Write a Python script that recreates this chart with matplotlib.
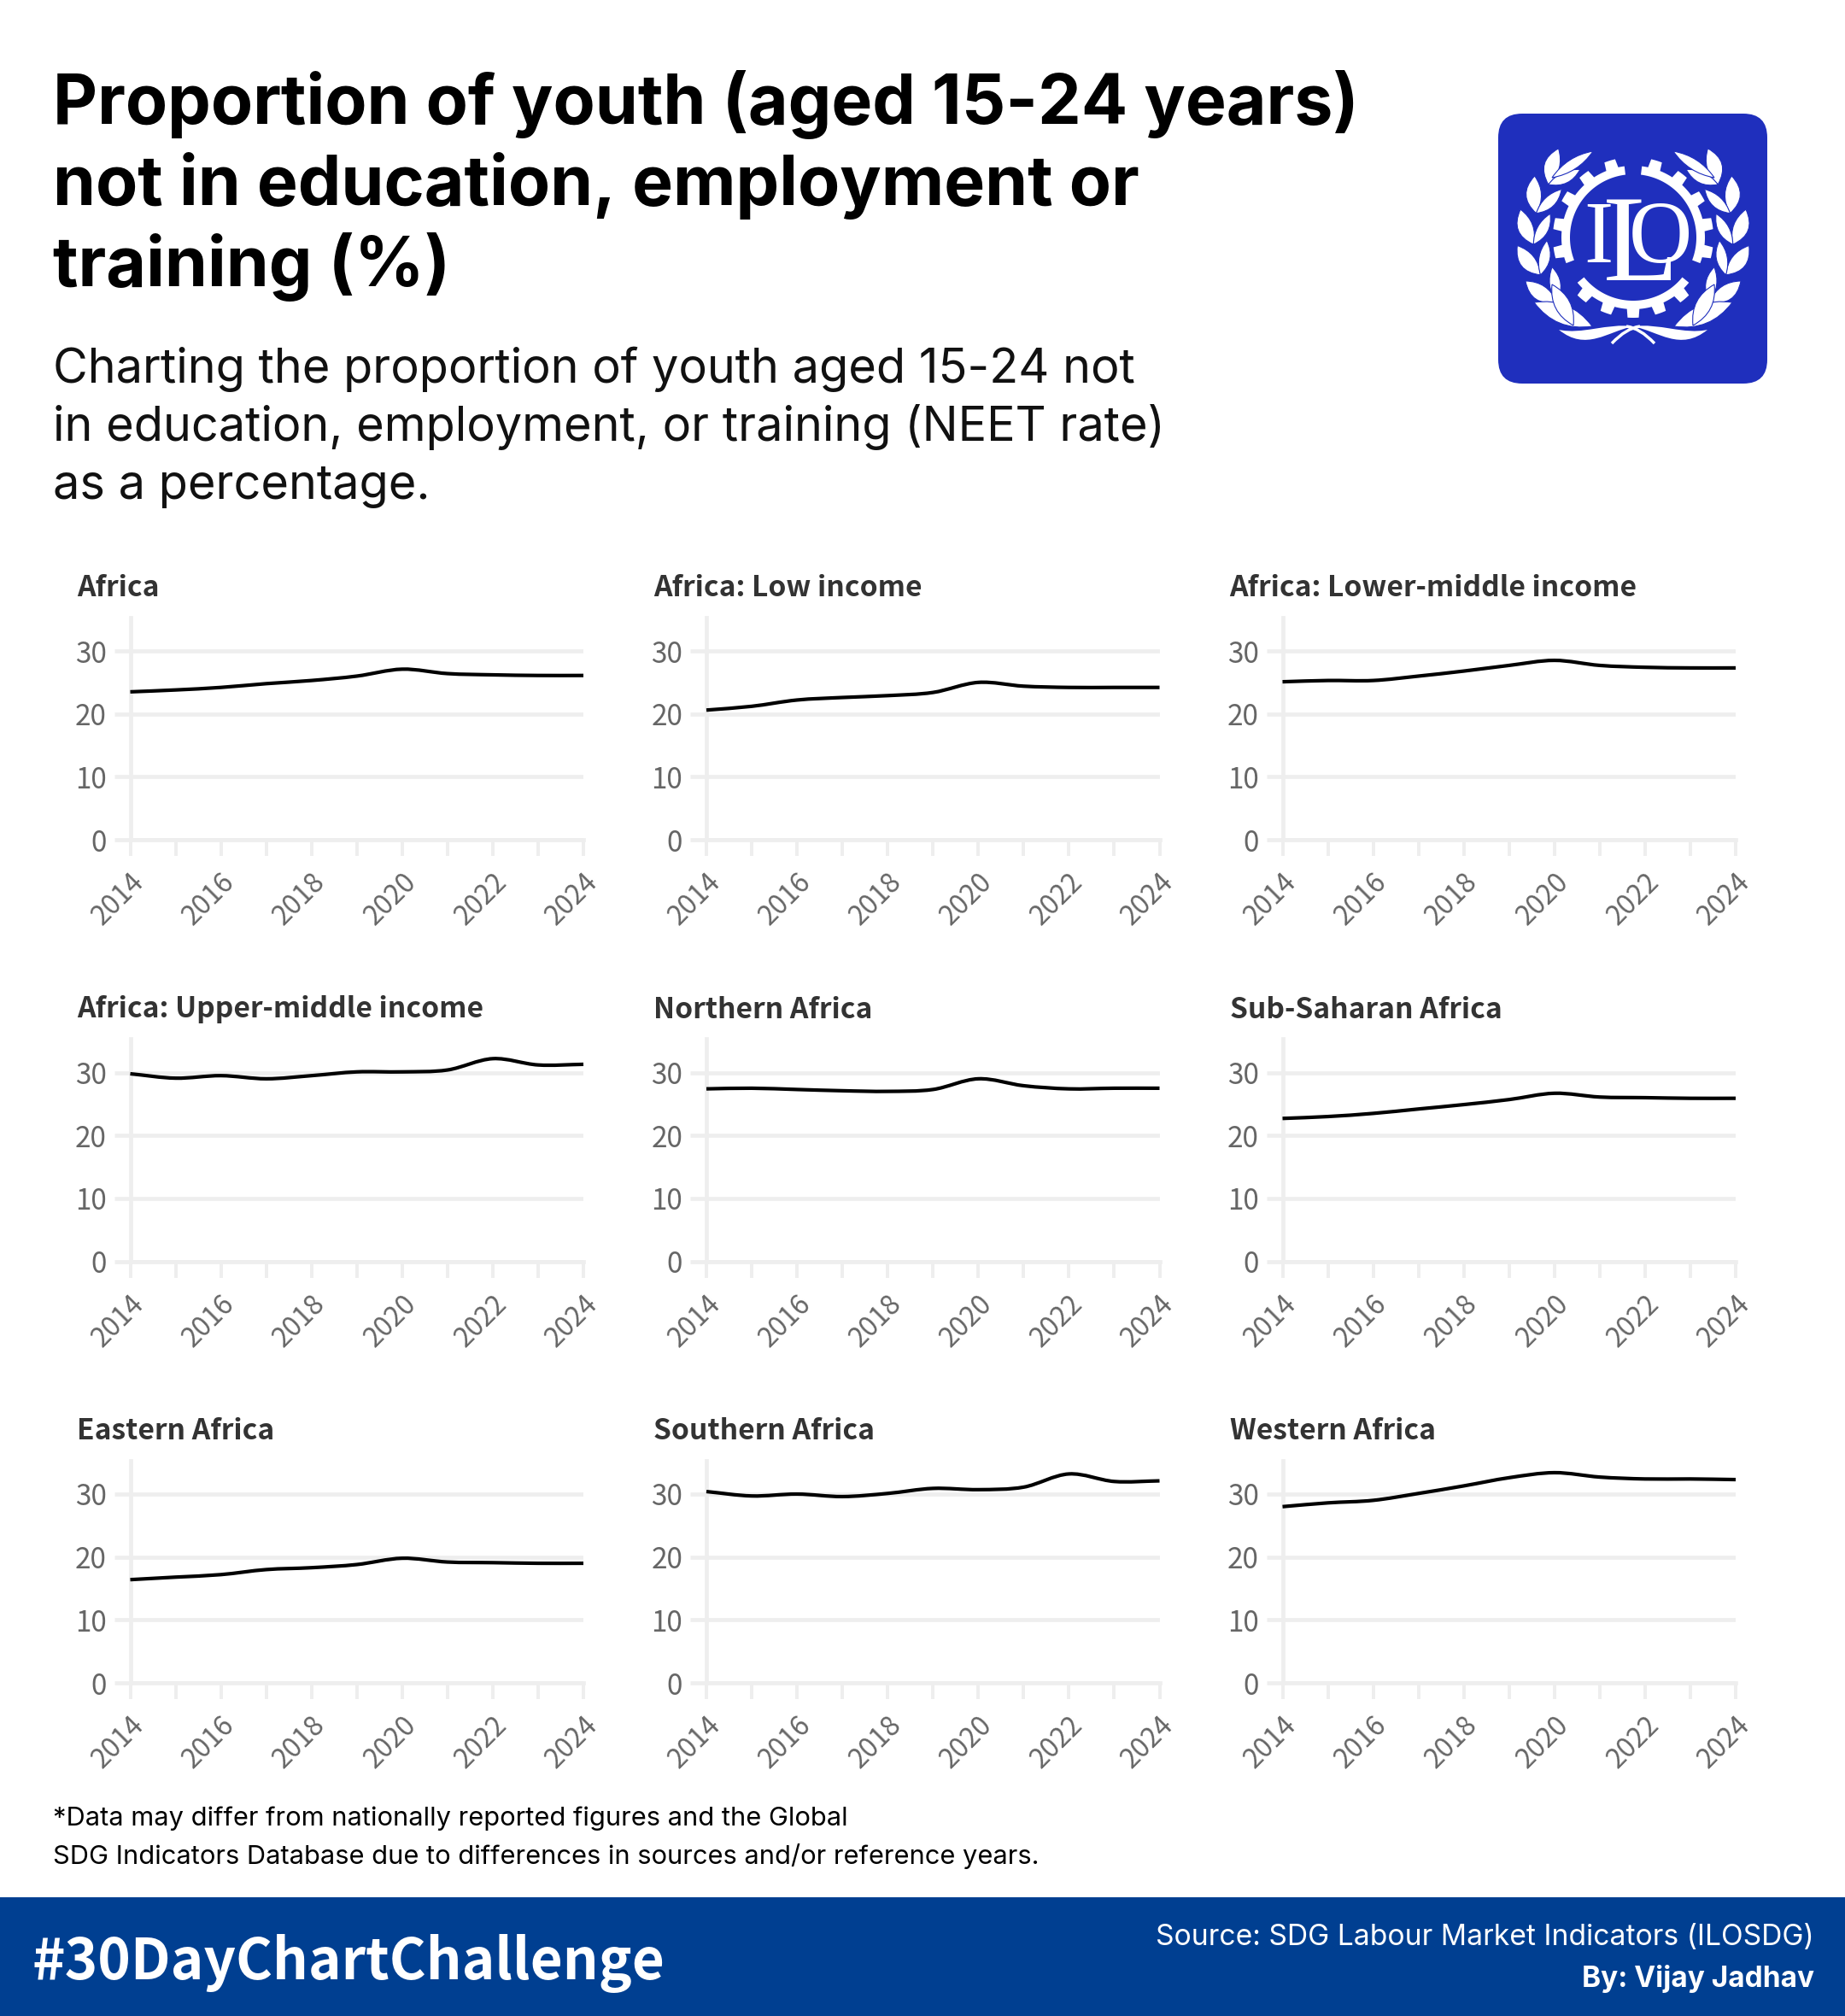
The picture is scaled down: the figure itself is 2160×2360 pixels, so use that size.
import numpy as np
import matplotlib
matplotlib.use("Agg")
import matplotlib.pyplot as plt
from matplotlib.path import Path
from matplotlib.patches import PathPatch, FancyBboxPatch, Rectangle, Polygon

years = np.arange(2014, 2025)
tick_labels = ["2014", "", "2016", "", "2018", "", "2020", "", "2022", "", "2024"]
y_ticks = [0, 10, 20, 30]

panel_names = ["Africa", "Africa: Low income", "Africa: Lower-middle income",
               "Africa: Upper-middle income", "Northern Africa", "Sub-Saharan Africa",
               "Eastern Africa", "Southern Africa", "Western Africa"]

africa = [23.5, 23.8, 24.2, 24.8, 25.3, 26.0, 27.1, 26.4, 26.2, 26.1, 26.1]
low_income = [20.6, 21.2, 22.2, 22.6, 22.9, 23.4, 25.0, 24.4, 24.2, 24.2, 24.2]
lower_middle = [25.1, 25.3, 25.3, 26.0, 26.8, 27.7, 28.5, 27.7, 27.4, 27.3, 27.3]
upper_middle = [29.8, 29.1, 29.5, 29.0, 29.5, 30.1, 30.1, 30.4, 32.2, 31.2, 31.3]
northern = [27.4, 27.5, 27.3, 27.1, 27.0, 27.3, 29.0, 27.9, 27.4, 27.5, 27.5]
sub_saharan = [22.7, 23.0, 23.5, 24.2, 24.9, 25.7, 26.7, 26.1, 26.0, 25.9, 25.9]
eastern = [16.4, 16.8, 17.2, 18.0, 18.3, 18.8, 19.8, 19.2, 19.1, 19.0, 19.0]
southern = [30.4, 29.7, 30.0, 29.6, 30.1, 30.9, 30.7, 31.1, 33.2, 32.0, 32.1]
western = [28.0, 28.6, 29.0, 30.1, 31.3, 32.6, 33.4, 32.7, 32.4, 32.4, 32.3]

panel_values = [africa, low_income, lower_middle, upper_middle, northern,
                sub_saharan, eastern, southern, western]

W, H = 2160, 2360
GRID = "#eeeeee"
CHART_FONT = ["Noto Sans CJK SC", "DejaVu Sans"]
HEAD_FONT = ["Inter", "DejaVu Sans"]

fig = plt.figure(figsize=(W / 100, H / 100), dpi=100, facecolor="white")

# full page overlay, works in reference pixels
bg = fig.add_axes([0, 0, 1, 1])
bg.set_xlim(0, W)
bg.set_ylim(H, 0)
bg.axis("off")

title_lines = ["Proportion of youth (aged 15-24 years)", "not in education, employment or", "training (%)"]
for line, yy in zip(title_lines, [145, 240, 335]):
    bg.text(62, yy, line, family=HEAD_FONT, weight="bold", fontsize=58, color="black", va="baseline")

sub_lines = ["Charting the proportion of youth aged 15-24 not",
             "in education, employment, or training (NEET rate)",
             "as a percentage."]
for line, yy in zip(sub_lines, [448, 516, 584]):
    bg.text(62, yy, line, family=HEAD_FONT, weight="normal", fontsize=40.2, color="#111111", va="baseline")

foot_lines = ["*Data may differ from nationally reported figures and the Global",
              "SDG Indicators Database due to differences in sources and/or reference years."]
for line, yy in zip(foot_lines, [2137, 2182]):
    bg.text(62, yy, line, family=HEAD_FONT, fontsize=22.2, color="black", va="baseline")

# banner
bg.add_patch(Rectangle((0, 2221), W, H - 2221, color="#003f91", lw=0))
bg.text(38, 2317, "#30DayChartChallenge", family=CHART_FONT, weight="bold", fontsize=47.2,
        color="white", va="baseline")
bg.text(2124, 2277, "Source: SDG Labour Market Indicators (ILOSDG)", family=HEAD_FONT, fontsize=24.2,
        color="white", ha="right", va="baseline")
bg.text(2124, 2326, "By: Vijay Jadhav", family=HEAD_FONT, weight="bold", fontsize=24,
        color="white", ha="right", va="baseline")


# ILO logo
LOGO = "#1f2fbd"
cx, cy = 1912, 278
bg.add_patch(FancyBboxPatch((1754 + 28, 133 + 28), 315 - 56, 316 - 56,
                            boxstyle="round,pad=28,rounding_size=28", fc=LOGO, ec="none"))


def gear_arc(a0, a1, teeth):
    # ring segment with teeth, angles in degrees (math sense, y up)
    r_in, r_out, r_tooth = 74, 84, 94
    outer = []
    angs = np.arange(a0, a1 + 0.5, 1.0)
    for a in angs:
        r = r_out
        for t in teeth:
            if abs(a - t) <= 4.5:
                r = r_tooth
        outer.append((cx + r * np.cos(np.radians(a)), cy - r * np.sin(np.radians(a))))
    inner = [(cx + r_in * np.cos(np.radians(a)), cy - r_in * np.sin(np.radians(a))) for a in angs[::-1]]
    bg.add_patch(Polygon(outer + inner, closed=True, fc="white", ec="none"))


gear_arc(97, 201, [107, 128, 149, 170, 191])
gear_arc(-21, 83, [-11, 10, 31, 52, 73])
gear_arc(219, 321, [230, 250, 270, 290, 310])


def leaf(x0, y0, x1, y1, w, bend=0.0):
    # lens shape between base and tip
    dx, dy = x1 - x0, y1 - y0
    nx, ny = -dy, dx
    n = np.hypot(nx, ny)
    nx, ny = nx / n, ny / n
    mx, my = (x0 + x1) / 2, (y0 + y1) / 2
    verts = [(x0, y0), (mx + nx * (w + bend), my + ny * (w + bend)), (x1, y1),
             (mx - nx * (w - bend), my - ny * (w - bend)), (x0, y0)]
    codes = [Path.MOVETO, Path.CURVE3, Path.CURVE3, Path.CURVE3, Path.CURVE3]
    bg.add_patch(PathPatch(Path(verts, codes), fc="white", ec=LOGO, lw=0.8))


for side in [-1, 1]:
    for th in [122, 104, 86, 68, 50]:
        # th counted from straight down, going up the wreath
        bx = cx + side * 117 * np.sin(np.radians(th))
        by = cy + 117 * np.cos(np.radians(th))
        ox = cx + side * 136 * np.sin(np.radians(th + 18))
        oy = cy + 136 * np.cos(np.radians(th + 18))
        ix = cx + side * 101 * np.sin(np.radians(th + 20))
        iy = cy + 101 * np.cos(np.radians(th + 20))
        leaf(bx, by, ox, oy, 18, bend=side * 4)
        leaf(bx, by, ix, iy, 13, bend=side * -2)
    # top leaf and long bottom leaves
    leaf(cx + side * 95, cy - 70, cx + side * 47, cy - 101, 12)
    leaf(cx + side * 48, cy + 104, cx + side * 116, cy + 76, 22)
    leaf(cx + side * 70, cy + 103, cx + side * 95, cy + 55, 18)
    # ribbon
    verts = [(cx + side * 87, cy + 108), (cx + side * 55, cy + 134), (cx + side * 30, cy + 110),
             (cx + side * 0, cy + 104), (cx + side * 30, cy + 100), (cx + side * 60, cy + 114),
             (cx + side * 87, cy + 108)]
    codes = [Path.MOVETO, Path.CURVE4, Path.CURVE4, Path.CURVE4, Path.CURVE4, Path.CURVE4, Path.CURVE4]
    bg.add_patch(PathPatch(Path(verts, codes), fc="white", ec="none"))
    bg.add_patch(PathPatch(Path([(cx + side * 25, cy + 124), (cx + side * 8, cy + 106), (cx - side * 8, cy + 104)],
                                [Path.MOVETO, Path.CURVE3, Path.CURVE3]), fc="none", ec="white", lw=2.5))

serif = "Liberation Serif"
bg.text(1871, 307, "I", family=serif, fontsize=74, color="white", ha="center", va="baseline")
bg.text(1944, 307, "O", family=serif, fontsize=74, color="white", ha="center", va="baseline")
bg.text(1921, 328, "L", family=serif, fontsize=104, color="white", ha="center", va="baseline")


def smooth_path(x, y):
    # cubic segments through the values, tangents from neighbouring points
    y = np.asarray(y, dtype=float)
    x = np.asarray(x, dtype=float)
    slope = np.gradient(y, x)
    verts = [(x[0], y[0])]
    codes = [Path.MOVETO]
    for i in range(len(x) - 1):
        h = (x[i + 1] - x[i]) / 3
        verts += [(x[i] + h, y[i] + slope[i] * h), (x[i + 1] - h, y[i + 1] - slope[i + 1] * h), (x[i + 1], y[i + 1])]
        codes += [Path.CURVE4] * 3
    return Path(verts, codes)


# panels, positions in reference pixels
x_left, x_right = 152.5, 683.0
y_zero, y_30 = 983.0, 762.0
x_step, y_step = 674.5, 493.5
y_top = 35.3

for i, (name, vals) in enumerate(zip(panel_names, panel_values)):
    col, row = i % 3, i // 3
    x0 = x_left + col * x_step
    x1 = x_right + col * x_step
    ybot = y_zero + row * y_step
    px_per = (y_zero - y_30) / 30
    ytop_px = ybot - y_top * px_per
    ax = fig.add_axes([x0 / W, 1 - ybot / H, (x1 - x0) / W, (ybot - ytop_px) / H])
    ax.set_facecolor("none")
    ax.set_xlim(years[0], years[-1])
    ax.set_ylim(0, y_top)
    for s in ["top", "right"]:
        ax.spines[s].set_visible(False)
    for s in ["left", "bottom"]:
        ax.spines[s].set_color(GRID)
        ax.spines[s].set_linewidth(3.4)
    ax.set_yticks(y_ticks)
    ax.set_xticks(years)
    ax.set_xticklabels(tick_labels)
    ax.grid(axis="y", color=GRID, lw=3.4)
    ax.set_axisbelow(True)
    ax.tick_params(axis="y", length=14, width=3.4, color=GRID, labelcolor="#666666", labelsize=24, pad=6)
    ax.tick_params(axis="x", length=14, width=2.8, color=GRID, labelcolor="#666666", labelsize=23, pad=10)
    for lab in ax.get_yticklabels() + ax.get_xticklabels():
        lab.set_family(CHART_FONT)
    for lab in ax.get_xticklabels():
        lab.set_rotation(45)
        lab.set_ha("right")
        lab.set_rotation_mode("anchor")
    ax.add_patch(PathPatch(smooth_path(years, vals), fc="none", ec="black", lw=3.0, clip_on=False, zorder=3))
    bg.text(x0 - 62, ybot - 285, name, family=CHART_FONT, weight="bold", fontsize=24.2, color="#333333", va="baseline")

fig.savefig("out.png", dpi=100, facecolor="white")
